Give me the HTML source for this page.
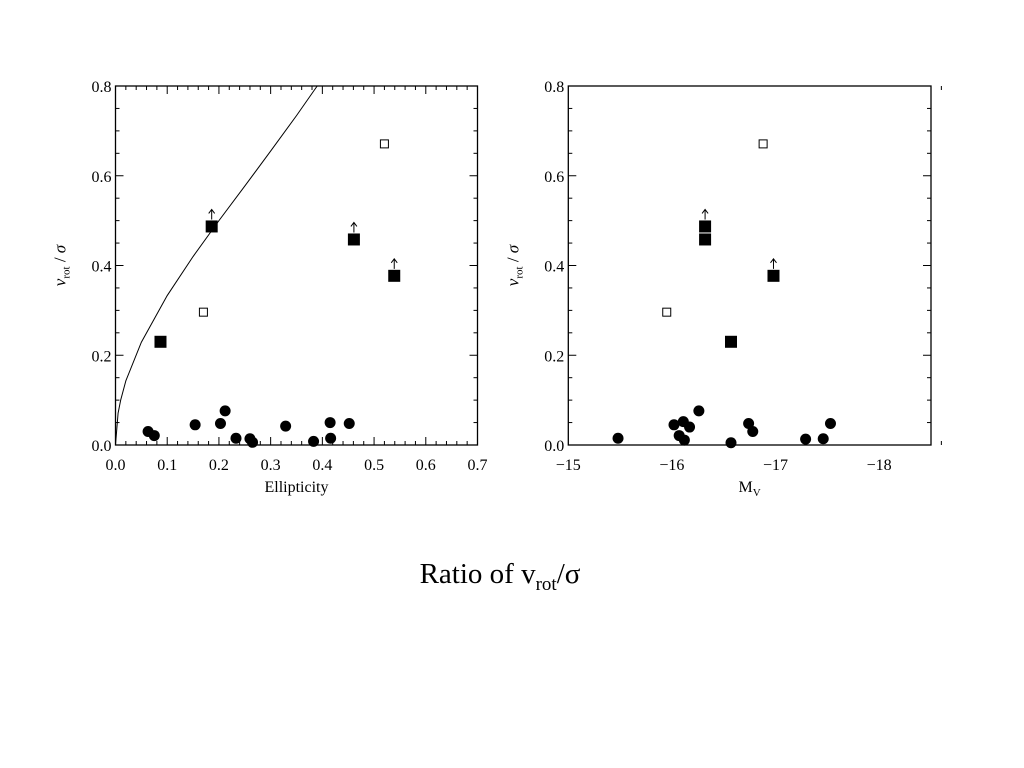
<!DOCTYPE html>
<html><head><meta charset="utf-8"><style>
body{margin:0;background:#fff;width:1024px;height:768px;overflow:hidden}
svg{position:absolute;left:0;top:0}
text{font-family:"Liberation Serif",serif;fill:#000}
</style></head><body>
<svg id="chart" width="1024" height="768" xmlns="http://www.w3.org/2000/svg"></svg>
<div style="position:absolute;left:0;width:1000px;top:558px;text-align:center;font-family:'Liberation Serif',serif;font-size:29px">Ratio of v<sub style="font-size:19px">rot</sub>/σ</div>
<script>
// Left panel data
const epsCircles=[0.063,0.075,0.154,0.203,0.212,0.233,0.26,0.265,0.329,0.383,0.415,0.416,0.452];
const vCirclesL=[0.030,0.021,0.045,0.048,0.076,0.015,0.014,0.006,0.042,0.008,0.050,0.015,0.048];
const epsFilled=[0.087,0.186,0.461,0.539];
const vFilled=[0.230,0.487,0.458,0.377];
const arrowFilledL=[false,true,true,true];
const epsOpen=[0.170,0.520];
const vOpen=[0.296,0.671];
const curveEps=[0,0.005,0.01,0.02,0.05,0.1,0.15,0.2,0.25,0.3,0.35,0.39];
const curveV=[0,0.071,0.1,0.143,0.229,0.333,0.42,0.5,0.577,0.655,0.734,0.8];
const xTicksL=["0.0","0.1","0.2","0.3","0.4","0.5","0.6","0.7"];
const yTicks=["0.0","0.2","0.4","0.6","0.8"];
// Right panel data
const mvCircles=[-15.48,-16.02,-16.07,-16.11,-16.12,-16.17,-16.26,-16.57,-16.74,-16.78,-17.29,-17.46,-17.53];
const vCirclesR=[0.015,0.045,0.021,0.052,0.011,0.040,0.076,0.005,0.048,0.030,0.013,0.014,0.048];
const mvFilled=[-16.32,-16.32,-16.57,-16.98];
const vFilledR=[0.487,0.458,0.230,0.377];
const arrowFilledR=[true,false,false,true];
const mvOpen=[-15.95,-16.88];
const vOpenR=[0.296,0.671];
const xTicksR=["−15","−16","−17","−18"];

const NS="http://www.w3.org/2000/svg";
const svg=document.getElementById('chart');
function mk(tag,attrs,parent){const e=document.createElementNS(NS,tag);for(const k in attrs)e.setAttribute(k,attrs[k]);(parent||svg).appendChild(e);return e;}

function panel(name,x0,x1,y0,y1,xmin,xmax,xmajor,xminor,xlabels,xtitle){
  const g=mk('g',{});
  
  
  const sx=v=>x0+(v-xmin)/(xmax-xmin)*(x1-x0);
  const sy=v=>y1-(v/0.8)*(y1-y0);
  const fr=mk('rect',{x:x0,y:y0,width:x1-x0,height:y1-y0,fill:'none',stroke:'#000','stroke-width':1.3},g);
  
  
  // x ticks
  const n=Math.round((xmax-xmin)/xminor);
  for(let i=0;i<=n;i++){
    const v=xmin+i*xminor, X=sx(v);
    if((xmax-xmin)>0?X>x1+0.5:X<x1-0.5) continue;
    const major=Math.abs(((v-xmin)/xmajor)-Math.round((v-xmin)/xmajor))<1e-6;
    const L=major?8:4;
    mk('line',{x1:X,y1:y1,x2:X,y2:y1-L,stroke:'#000'},g);
    mk('line',{x1:X,y1:y0,x2:X,y2:y0+L,stroke:'#000'},g);
  }
  xlabels.forEach((t,i)=>{const tx=mk('text',{x:sx(xmin+i*xmajor),y:y1+25,'text-anchor':'middle','font-size':16},g);tx.textContent=t;
    
    });
  for(let i=0;i<=16;i++){const v=i*0.05,Y=sy(v),L=(i%4==0)?8:4;
    mk('line',{x1:x0,y1:Y,x2:x0+L,y2:Y,stroke:'#000'},g);
    mk('line',{x1:x1,y1:Y,x2:x1-L,y2:Y,stroke:'#000'},g);}
  yTicks.forEach((t,i)=>{const tx=mk('text',{x:x0-4,y:sy(i*0.2)+6,'text-anchor':'end','font-size':16},g);tx.textContent=t;
    
    });
  const yt=mk('text',{transform:`translate(${x0-50},${(y0+y1)/2}) rotate(-90)`,'text-anchor':'middle','font-size':17},g);
  yt.innerHTML='<tspan font-style="italic">v</tspan><tspan font-size="11" dy="4">rot</tspan><tspan dy="-4"> / </tspan><tspan font-style="italic">σ</tspan>';
  
  
  const xt=mk('text',{x:(x0+x1)/2,y:y1+47,'text-anchor':'middle','font-size':16},g);
  xt.innerHTML=xtitle;
  
  
  return {g,sx,sy};
}
function circles(p,xs,ys){xs.forEach((x,i)=>{const c=mk('circle',{cx:p.sx(x),cy:p.sy(ys[i]),r:5.5,fill:'#000'},p.g);
  
  });}
function squares(p,xs,ys,filled,arrows){xs.forEach((x,i)=>{const X=p.sx(x),Y=p.sy(ys[i]);
  const s=mk('rect',{x:X-(filled?5.5:4),y:Y-(filled?5.5:4),width:filled?11:8,height:filled?11:8,fill:filled?'#000':'#fff',stroke:'#000','stroke-width':1},p.g);
  
  
  if(arrows&&arrows[i]){const a=mk('path',{d:`M${X},${Y-7}V${Y-17}M${X-3},${Y-13}L${X},${Y-17}L${X+3},${Y-13}`,stroke:'#000',fill:'none','stroke-width':1},p.g);
    
    }
});}
const L=panel('left-panel',115.5,477.5,86,445,0,0.7,0.1,0.02,xTicksL,'Ellipticity');
const line=mk('polyline',{points:curveEps.map((e,i)=>L.sx(e)+','+L.sy(curveV[i])).join(' '),fill:'none',stroke:'#000','stroke-width':1},L.g);


circles(L,epsCircles,vCirclesL);
squares(L,epsFilled,vFilled,true,arrowFilledL);
squares(L,epsOpen,vOpen,false,null);
const R=panel('right-panel',568.3,931,86,445,-15,-18.5,-1,-0.2,xTicksR,'M<tspan font-size="11" dy="4">V</tspan>');
circles(R,mvCircles,vCirclesR);
squares(R,mvFilled,vFilledR,true,arrowFilledR);
squares(R,mvOpen,vOpenR,false,null);
</script>
</body></html>
